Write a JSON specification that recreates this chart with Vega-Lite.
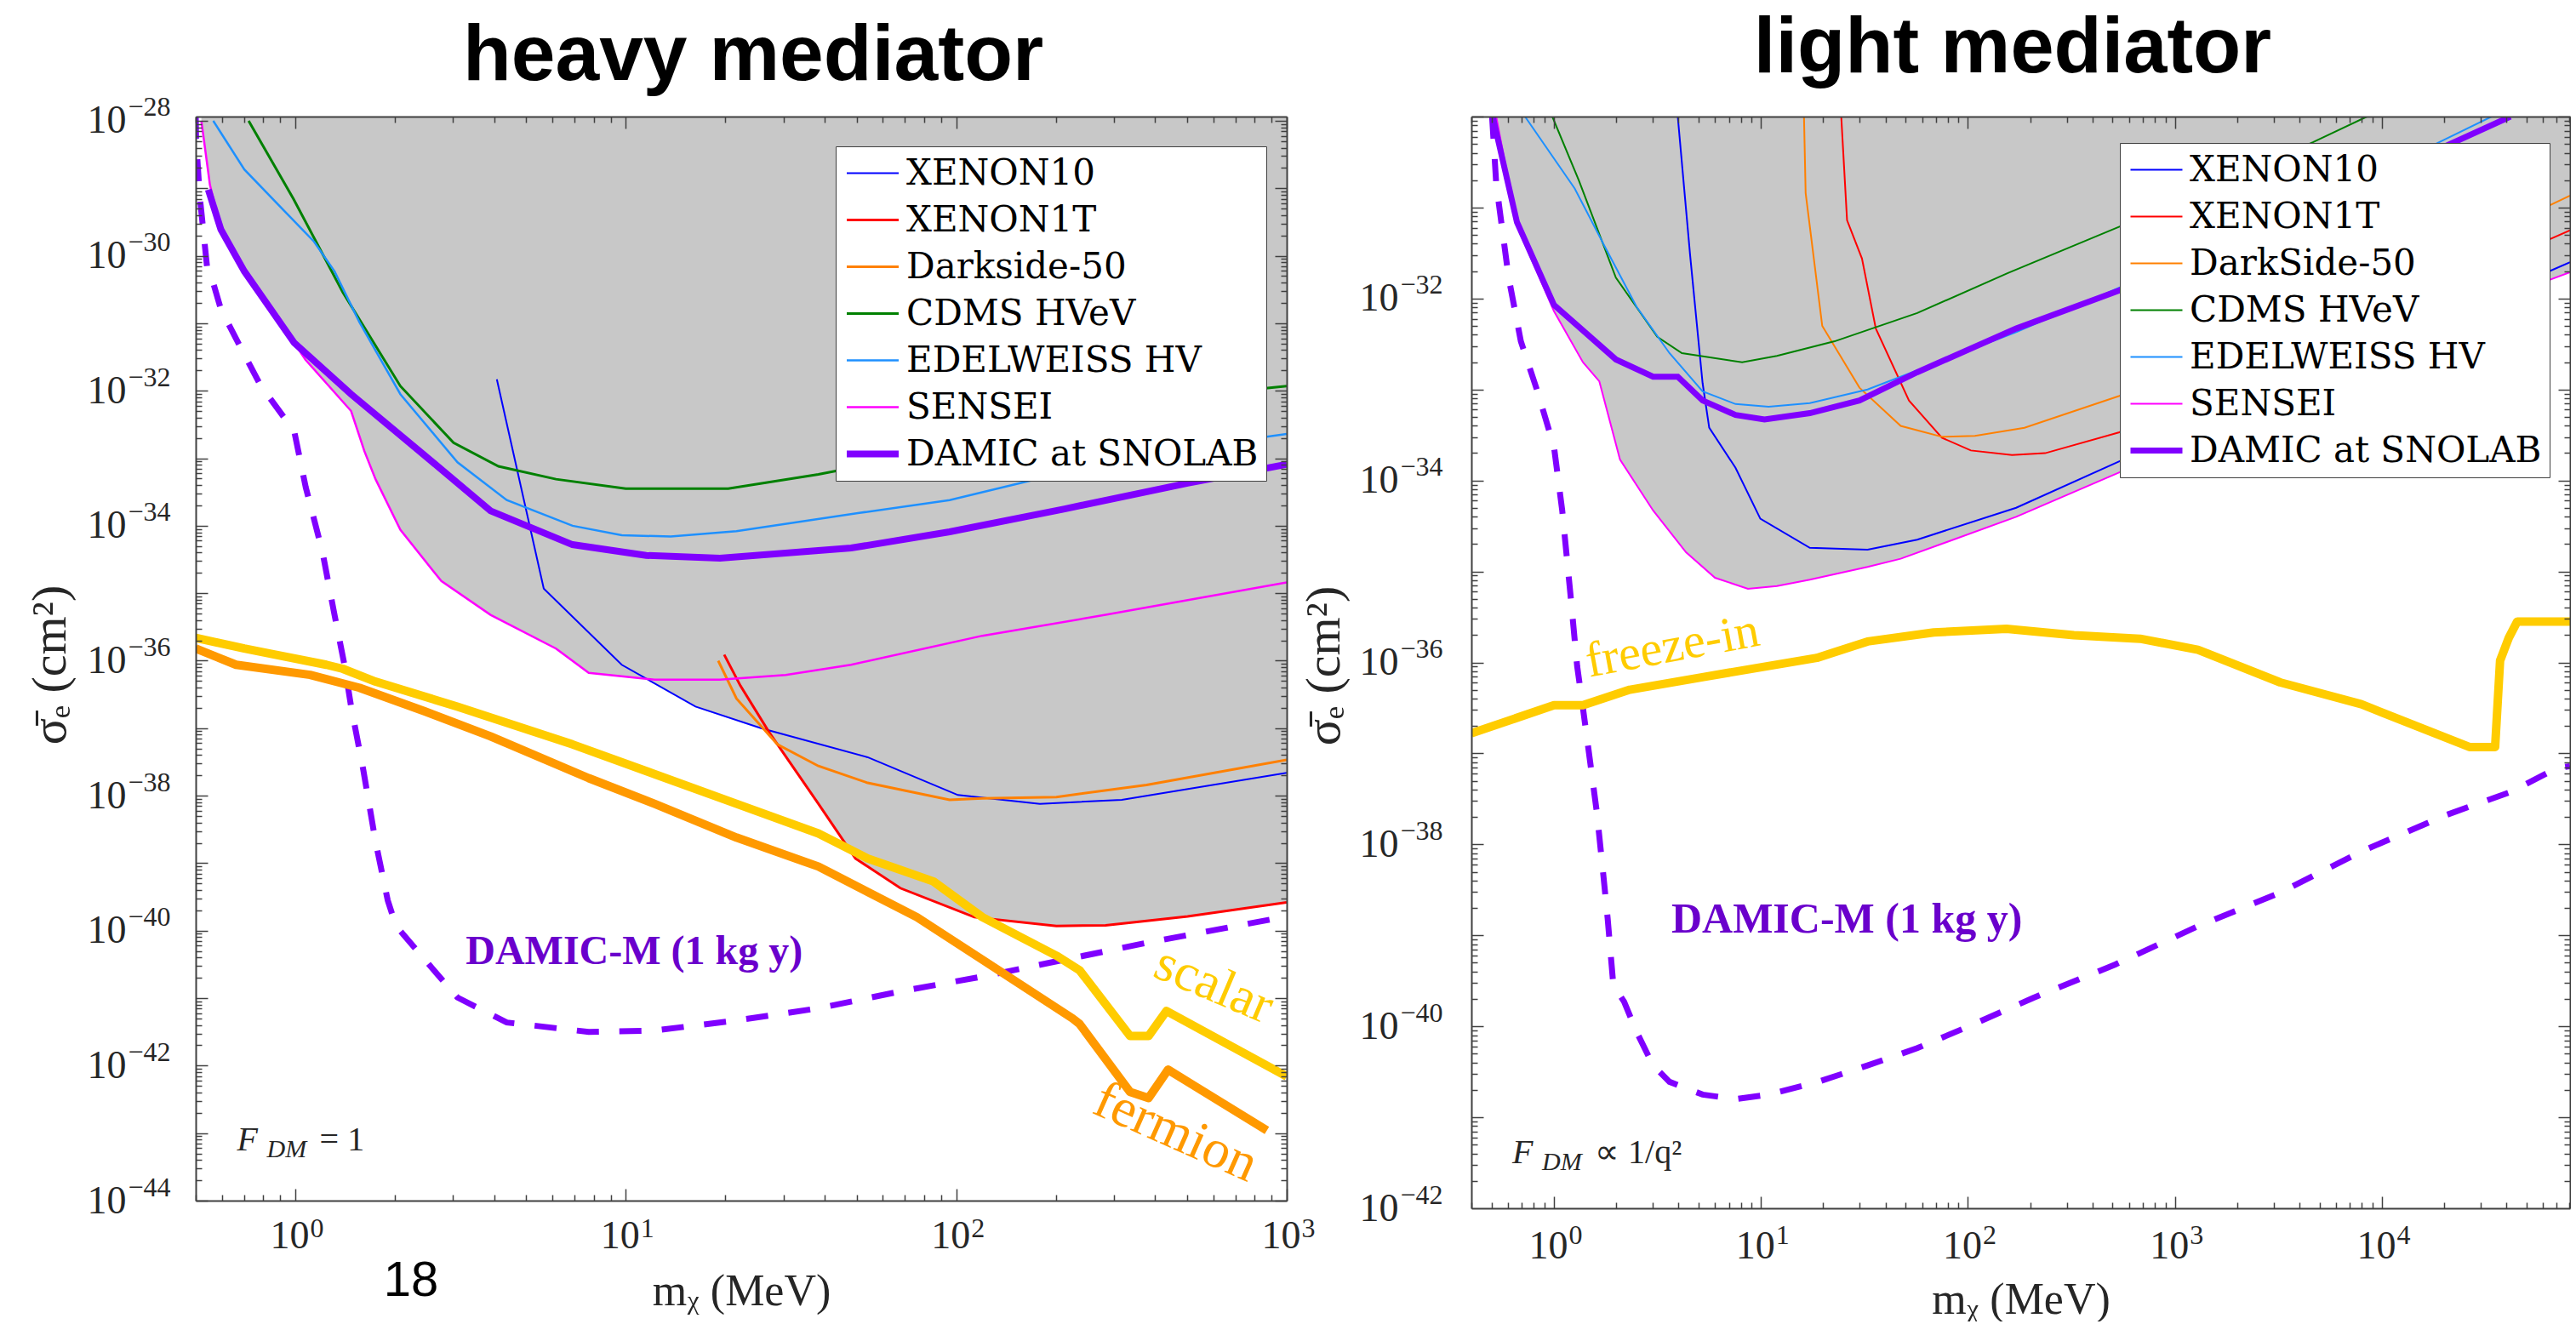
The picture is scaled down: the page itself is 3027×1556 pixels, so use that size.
{
"$schema":"https://vega.github.io/schema/vega-lite/v6.json",
"background":"white",
"padding":{"left":30,"top":11,"right":0,"bottom":0},
"bounds":"flush",
"spacing":217,
"resolve":{"scale":{"x":"independent","y":"independent","color":"independent","strokeWidth":"independent"}},
"config":{"view":{"stroke":null},"axis":{"labelFont":"Liberation Serif","titleFont":"Liberation Serif","labelColor":"#262626","titleColor":"#262626","tickColor":"#404040","domainColor":"#404040","grid":false},"text":{"font":"Liberation Serif"}},
"datasets":{
"L":[
{"s":"env","m":0.52,"sig":1e-28},{"s":"env","m":0.552,"sig":1.122e-29},{"s":"env","m":0.5957,"sig":2.455e-30},{"s":"env","m":0.7015,"sig":5.888e-31},{"s":"env","m":0.9931,"sig":5.129e-32},{"s":"env","m":1.074,"sig":2.884e-32},{"s":"env","m":1.476,"sig":5.012e-33},{"s":"env","m":1.618,"sig":1.288e-33},{"s":"env","m":1.75,"sig":4.898e-34},{"s":"env","m":2.08,"sig":8.71e-35},{"s":"env","m":2.767,"sig":1.514e-35},{"s":"env","m":3.899,"sig":4.786e-36},{"s":"env","m":6.152,"sig":1.514e-36},{"s":"env","m":7.727,"sig":6.607e-37},{"s":"env","m":11.38,"sig":5.495e-37},{"s":"env","m":16.26,"sig":2.089e-37},{"s":"env","m":25.64,"sig":1e-37},{"s":"env","m":27.16,"sig":8.71e-38},{"s":"env","m":28.77,"sig":5.754e-38},{"s":"env","m":38.28,"sig":7.586e-39},{"s":"env","m":49.55,"sig":1.175e-39},{"s":"env","m":67.76,"sig":4.266e-40},{"s":"env","m":113.5,"sig":1.585e-40},{"s":"env","m":200.9,"sig":1.175e-40},{"s":"env","m":283.1,"sig":1.202e-40},{"s":"env","m":501.2,"sig":1.622e-40},{"s":"env","m":1000,"sig":2.63e-40},
{"s":"XENON10","m":4.074,"sig":1.479e-32},{"s":"XENON10","m":5.649,"sig":1.175e-35},{"s":"XENON10","m":9.727,"sig":8.71e-37},{"s":"XENON10","m":16.26,"sig":2.089e-37},{"s":"XENON10","m":25.64,"sig":1e-37},{"s":"XENON10","m":53.95,"sig":3.715e-38},{"s":"XENON10","m":101.2,"sig":1.023e-38},{"s":"XENON10","m":179.1,"sig":7.586e-39},{"s":"XENON10","m":316.9,"sig":8.71e-39},{"s":"XENON10","m":1000,"sig":2.19e-38},
{"s":"XENON1T","m":19.86,"sig":1.23e-36},{"s":"XENON1T","m":22.23,"sig":4.266e-37},{"s":"XENON1T","m":27.16,"sig":8.71e-38},{"s":"XENON1T","m":38.28,"sig":7.586e-39},{"s":"XENON1T","m":49.55,"sig":1.175e-39},{"s":"XENON1T","m":67.76,"sig":4.266e-40},{"s":"XENON1T","m":113.5,"sig":1.585e-40},{"s":"XENON1T","m":200.9,"sig":1.175e-40},{"s":"XENON1T","m":283.1,"sig":1.202e-40},{"s":"XENON1T","m":501.2,"sig":1.622e-40},{"s":"XENON1T","m":1000,"sig":2.63e-40},
{"s":"Darkside-50","m":19.05,"sig":1e-36},{"s":"Darkside-50","m":21.63,"sig":2.754e-37},{"s":"Darkside-50","m":28.77,"sig":5.754e-38},{"s":"Darkside-50","m":38.28,"sig":2.754e-38},{"s":"Darkside-50","m":53.95,"sig":1.549e-38},{"s":"Darkside-50","m":95.5,"sig":8.71e-39},{"s":"Darkside-50","m":120,"sig":9.12e-39},{"s":"Darkside-50","m":200.9,"sig":9.55e-39},{"s":"Darkside-50","m":376.7,"sig":1.445e-38},{"s":"Darkside-50","m":1000,"sig":3.39e-38},
{"s":"CDMS HVeV","m":0.7228,"sig":1e-28},{"s":"CDMS HVeV","m":0.9886,"sig":6.918e-30},{"s":"CDMS HVeV","m":1.393,"sig":2.884e-31},{"s":"CDMS HVeV","m":2.08,"sig":1.175e-32},{"s":"CDMS HVeV","m":3.013,"sig":1.698e-33},{"s":"CDMS HVeV","m":4.121,"sig":7.586e-34},{"s":"CDMS HVeV","m":6.152,"sig":4.898e-34},{"s":"CDMS HVeV","m":10,"sig":3.548e-34},{"s":"CDMS HVeV","m":20.42,"sig":3.548e-34},{"s":"CDMS HVeV","m":38.28,"sig":5.754e-34},{"s":"CDMS HVeV","m":790.7,"sig":1.047e-32},{"s":"CDMS HVeV","m":1000,"sig":1.175e-32},
{"s":"EDELWEISS HV","m":0.5649,"sig":1e-28},{"s":"EDELWEISS HV","m":0.7015,"sig":1.905e-29},{"s":"EDELWEISS HV","m":0.9333,"sig":4.467e-30},{"s":"EDELWEISS HV","m":1.14,"sig":1.622e-30},{"s":"EDELWEISS HV","m":1.315,"sig":5.888e-31},{"s":"EDELWEISS HV","m":1.563,"sig":1.047e-31},{"s":"EDELWEISS HV","m":2.08,"sig":8.913e-33},{"s":"EDELWEISS HV","m":3.097,"sig":8.71e-34},{"s":"EDELWEISS HV","m":4.365,"sig":2.399e-34},{"s":"EDELWEISS HV","m":6.902,"sig":1e-34},{"s":"EDELWEISS HV","m":9.727,"sig":7.244e-35},{"s":"EDELWEISS HV","m":13.68,"sig":6.918e-35},{"s":"EDELWEISS HV","m":21.63,"sig":8.318e-35},{"s":"EDELWEISS HV","m":50.93,"sig":1.549e-34},{"s":"EDELWEISS HV","m":95.5,"sig":2.399e-34},{"s":"EDELWEISS HV","m":200.9,"sig":5.754e-34},{"s":"EDELWEISS HV","m":790.7,"sig":1.95e-33},{"s":"EDELWEISS HV","m":1000,"sig":2.291e-33},
{"s":"SENSEI","m":0.52,"sig":1e-28},{"s":"SENSEI","m":0.552,"sig":1.122e-29},{"s":"SENSEI","m":0.5957,"sig":2.512e-30},{"s":"SENSEI","m":0.7015,"sig":5.888e-31},{"s":"SENSEI","m":0.9931,"sig":5.129e-32},{"s":"SENSEI","m":1.074,"sig":2.884e-32},{"s":"SENSEI","m":1.476,"sig":5.012e-33},{"s":"SENSEI","m":1.618,"sig":1.288e-33},{"s":"SENSEI","m":1.75,"sig":4.898e-34},{"s":"SENSEI","m":2.08,"sig":8.71e-35},{"s":"SENSEI","m":2.767,"sig":1.514e-35},{"s":"SENSEI","m":3.899,"sig":4.786e-36},{"s":"SENSEI","m":6.152,"sig":1.514e-36},{"s":"SENSEI","m":7.727,"sig":6.607e-37},{"s":"SENSEI","m":12.22,"sig":5.248e-37},{"s":"SENSEI","m":19.28,"sig":5.248e-37},{"s":"SENSEI","m":30.48,"sig":6.166e-37},{"s":"SENSEI","m":48.08,"sig":8.71e-37},{"s":"SENSEI","m":120,"sig":2.344e-36},{"s":"SENSEI","m":283.1,"sig":4.786e-36},{"s":"SENSEI","m":1000,"sig":1.445e-35},
{"s":"DAMIC at SNOLAB","m":0.5458,"sig":9.55e-30},{"s":"DAMIC at SNOLAB","m":0.5957,"sig":2.455e-30},{"s":"DAMIC at SNOLAB","m":0.7015,"sig":5.888e-31},{"s":"DAMIC at SNOLAB","m":0.9931,"sig":5.129e-32},{"s":"DAMIC at SNOLAB","m":1.476,"sig":8.913e-33},{"s":"DAMIC at SNOLAB","m":2.466,"sig":1.096e-33},{"s":"DAMIC at SNOLAB","m":3.899,"sig":1.66e-34},{"s":"DAMIC at SNOLAB","m":6.902,"sig":5.248e-35},{"s":"DAMIC at SNOLAB","m":11.53,"sig":3.631e-35},{"s":"DAMIC at SNOLAB","m":19.28,"sig":3.311e-35},{"s":"DAMIC at SNOLAB","m":48.08,"sig":4.677e-35},{"s":"DAMIC at SNOLAB","m":95.5,"sig":8.128e-35},{"s":"DAMIC at SNOLAB","m":212.8,"sig":1.778e-34},{"s":"DAMIC at SNOLAB","m":501.2,"sig":4.266e-34},{"s":"DAMIC at SNOLAB","m":1000,"sig":8.128e-34},
{"s":"scalar","m":0.5,"sig":2.188e-36},{"s":"scalar","m":0.7015,"sig":1.514e-36},{"s":"scalar","m":1.242,"sig":8.71e-37},{"s":"scalar","m":1.393,"sig":7.586e-37},{"s":"scalar","m":1.75,"sig":4.898e-37},{"s":"scalar","m":3.097,"sig":2.089e-37},{"s":"scalar","m":6.902,"sig":5.754e-38},{"s":"scalar","m":12.22,"sig":2.089e-38},{"s":"scalar","m":21.63,"sig":7.586e-39},{"s":"scalar","m":38.28,"sig":2.754e-39},{"s":"scalar","m":53.95,"sig":1.175e-39},{"s":"scalar","m":85.31,"sig":5.37e-40},{"s":"scalar","m":120,"sig":1.585e-40},{"s":"scalar","m":200.9,"sig":4.266e-41},{"s":"scalar","m":236,"sig":2.6e-41},{"s":"scalar","m":335.7,"sig":2.754e-42},{"s":"scalar","m":382,"sig":2.754e-42},{"s":"scalar","m":432.5,"sig":6.457e-42},{"s":"scalar","m":950.6,"sig":7.943e-43},{"s":"scalar","m":1000,"sig":6.918e-43},
{"s":"fermion","m":0.5,"sig":1.514e-36},{"s":"fermion","m":0.6622,"sig":8.71e-37},{"s":"fermion","m":1.109,"sig":6.166e-37},{"s":"fermion","m":1.563,"sig":3.981e-37},{"s":"fermion","m":2.466,"sig":1.778e-37},{"s":"fermion","m":3.899,"sig":7.586e-38},{"s":"fermion","m":7.727,"sig":1.82e-38},{"s":"fermion","m":12.22,"sig":7.586e-39},{"s":"fermion","m":21.63,"sig":2.399e-39},{"s":"fermion","m":38.28,"sig":8.913e-40},{"s":"fermion","m":76.03,"sig":1.585e-40},{"s":"fermion","m":120,"sig":3.715e-41},{"s":"fermion","m":224.9,"sig":5.012e-42},{"s":"fermion","m":236,"sig":4.169e-42},{"s":"fermion","m":335.7,"sig":4.074e-43},{"s":"fermion","m":382,"sig":3.311e-43},{"s":"fermion","m":437.5,"sig":8.71e-43},{"s":"fermion","m":871,"sig":1.096e-43},
{"s":"dm","m":0.5,"sig":1.15e-28},{"s":"dm","m":0.5012,"sig":5.37e-29},{"s":"dm","m":0.514,"sig":7.762e-30},{"s":"dm","m":0.542,"sig":6.31e-31},{"s":"dm","m":0.5623,"sig":4.266e-31},{"s":"dm","m":0.5957,"sig":1.622e-31},{"s":"dm","m":0.6871,"sig":4.169e-32},{"s":"dm","m":0.7852,"sig":1.202e-32},{"s":"dm","m":0.9931,"sig":2.512e-33},{"s":"dm","m":1.076,"sig":3.715e-34},{"s":"dm","m":1.208,"sig":4.169e-35},{"s":"dm","m":1.315,"sig":4.786e-36},{"s":"dm","m":1.409,"sig":8.71e-37},{"s":"dm","m":1.476,"sig":2.089e-37},{"s":"dm","m":1.607,"sig":2.399e-38},{"s":"dm","m":1.75,"sig":2.089e-39},{"s":"dm","m":1.905,"sig":2.818e-40},{"s":"dm","m":2.018,"sig":1.175e-40},{"s":"dm","m":2.466,"sig":3.715e-41},{"s":"dm","m":3.097,"sig":1.023e-41},{"s":"dm","m":4.365,"sig":4.365e-42},{"s":"dm","m":7.727,"sig":3.162e-42},{"s":"dm","m":12.22,"sig":3.311e-42},{"s":"dm","m":21.63,"sig":4.677e-42},{"s":"dm","m":38.28,"sig":7.079e-42},{"s":"dm","m":67.76,"sig":1.259e-41},{"s":"dm","m":120,"sig":2.089e-41},{"s":"dm","m":212.8,"sig":3.715e-41},{"s":"dm","m":376.7,"sig":6.607e-41},{"s":"dm","m":1000,"sig":1.622e-40}
],
"R":[
{"s":"env","m":0.526,"sig":1e-30},{"s":"env","m":0.6622,"sig":6.31e-32},{"s":"env","m":1.0,"sig":7.244e-33},{"s":"env","m":1.38,"sig":1.995e-33},{"s":"env","m":1.656,"sig":1.23e-33},{"s":"env","m":2.084,"sig":1.698e-34},{"s":"env","m":3.013,"sig":4.677e-35},{"s":"env","m":4.345,"sig":1.622e-35},{"s":"env","m":5.998,"sig":8.511e-36},{"s":"env","m":8.65,"sig":6.457e-36},{"s":"env","m":11.94,"sig":6.918e-36},{"s":"env","m":17.22,"sig":8.128e-36},{"s":"env","m":32.73,"sig":1.122e-35},{"s":"env","m":47.32,"sig":1.38e-35},{"s":"env","m":171,"sig":3.981e-35},{"s":"env","m":539.5,"sig":1.23e-34},{"s":"env","m":58750,"sig":1.479e-32},{"s":"env","m":81100,"sig":1.95e-32},
{"s":"XENON10","m":3.963,"sig":1e-30},{"s":"XENON10","m":4.55,"sig":2.951e-32},{"s":"XENON10","m":5.224,"sig":1.175e-33},{"s":"XENON10","m":5.623,"sig":3.802e-34},{"s":"XENON10","m":7.534,"sig":1.38e-34},{"s":"XENON10","m":9.931,"sig":3.802e-35},{"s":"XENON10","m":17.22,"sig":1.82e-35},{"s":"XENON10","m":32.73,"sig":1.738e-35},{"s":"XENON10","m":56.89,"sig":2.239e-35},{"s":"XENON10","m":171,"sig":5.012e-35},{"s":"XENON10","m":539.5,"sig":1.622e-34},{"s":"XENON10","m":58750,"sig":1.82e-32},{"s":"XENON10","m":81100,"sig":2.512e-32},
{"s":"XENON1T","m":24.43,"sig":1e-30},{"s":"XENON1T","m":26.06,"sig":7.244e-32},{"s":"XENON1T","m":30.76,"sig":2.754e-32},{"s":"XENON1T","m":35.89,"sig":4.677e-33},{"s":"XENON1T","m":51.88,"sig":7.586e-34},{"s":"XENON1T","m":74.82,"sig":2.951e-34},{"s":"XENON1T","m":103.3,"sig":2.138e-34},{"s":"XENON1T","m":163.3,"sig":1.905e-34},{"s":"XENON1T","m":236,"sig":1.995e-34},{"s":"XENON1T","m":539.5,"sig":3.388e-34},{"s":"XENON1T","m":58750,"sig":4.074e-32},{"s":"XENON1T","m":81100,"sig":5.623e-32},
{"s":"DarkSide-50","m":16.14,"sig":1e-30},{"s":"DarkSide-50","m":16.44,"sig":1.445e-31},{"s":"DarkSide-50","m":19.77,"sig":5.012e-33},{"s":"DarkSide-50","m":29.92,"sig":1.047e-33},{"s":"DarkSide-50","m":47.32,"sig":3.981e-34},{"s":"DarkSide-50","m":74.82,"sig":3.02e-34},{"s":"DarkSide-50","m":108.1,"sig":3.09e-34},{"s":"DarkSide-50","m":187.5,"sig":3.802e-34},{"s":"DarkSide-50","m":539.5,"sig":8.511e-34},{"s":"DarkSide-50","m":58750,"sig":9.55e-32},{"s":"DarkSide-50","m":81100,"sig":1.349e-31},
{"s":"CDMS HVeV","m":0.9817,"sig":1e-30},{"s":"CDMS HVeV","m":1.318,"sig":1.995e-31},{"s":"CDMS HVeV","m":1.991,"sig":1.698e-32},{"s":"CDMS HVeV","m":3.155,"sig":3.802e-33},{"s":"CDMS HVeV","m":4.15,"sig":2.512e-33},{"s":"CDMS HVeV","m":8.11,"sig":1.995e-33},{"s":"CDMS HVeV","m":11.94,"sig":2.344e-33},{"s":"CDMS HVeV","m":22.7,"sig":3.388e-33},{"s":"CDMS HVeV","m":56.89,"sig":6.918e-33},{"s":"CDMS HVeV","m":156,"sig":1.905e-32},{"s":"CDMS HVeV","m":539.5,"sig":6.166e-32},{"s":"CDMS HVeV","m":4667,"sig":5.248e-31},{"s":"CDMS HVeV","m":8472,"sig":1e-30},
{"s":"EDELWEISS HV","m":0.7244,"sig":1e-30},{"s":"EDELWEISS HV","m":1.259,"sig":1.622e-31},{"s":"EDELWEISS HV","m":1.734,"sig":3.981e-32},{"s":"EDELWEISS HV","m":2.506,"sig":8.128e-33},{"s":"EDELWEISS HV","m":3.614,"sig":2.512e-33},{"s":"EDELWEISS HV","m":5.224,"sig":9.55e-34},{"s":"EDELWEISS HV","m":7.534,"sig":6.918e-34},{"s":"EDELWEISS HV","m":10.89,"sig":6.457e-34},{"s":"EDELWEISS HV","m":17.22,"sig":7.079e-34},{"s":"EDELWEISS HV","m":32.73,"sig":1e-33},{"s":"EDELWEISS HV","m":56.89,"sig":1.622e-33},{"s":"EDELWEISS HV","m":171,"sig":4.266e-33},{"s":"EDELWEISS HV","m":539.5,"sig":1.318e-32},{"s":"EDELWEISS HV","m":17500,"sig":4.786e-31},{"s":"EDELWEISS HV","m":33880,"sig":1e-30},
{"s":"SENSEI","m":0.526,"sig":1e-30},{"s":"SENSEI","m":0.6622,"sig":6.31e-32},{"s":"SENSEI","m":1.0,"sig":7.244e-33},{"s":"SENSEI","m":1.38,"sig":1.995e-33},{"s":"SENSEI","m":1.656,"sig":1.23e-33},{"s":"SENSEI","m":2.084,"sig":1.698e-34},{"s":"SENSEI","m":3.013,"sig":4.677e-35},{"s":"SENSEI","m":4.345,"sig":1.622e-35},{"s":"SENSEI","m":5.998,"sig":8.511e-36},{"s":"SENSEI","m":8.65,"sig":6.457e-36},{"s":"SENSEI","m":11.94,"sig":6.918e-36},{"s":"SENSEI","m":17.22,"sig":8.128e-36},{"s":"SENSEI","m":32.73,"sig":1.122e-35},{"s":"SENSEI","m":47.32,"sig":1.38e-35},{"s":"SENSEI","m":171,"sig":3.981e-35},{"s":"SENSEI","m":539.5,"sig":1.23e-34},{"s":"SENSEI","m":58750,"sig":1.479e-32},{"s":"SENSEI","m":81100,"sig":1.95e-32},
{"s":"DAMIC at SNOLAB","m":0.507,"sig":1e-30},{"s":"DAMIC at SNOLAB","m":0.5164,"sig":8.128e-31},{"s":"DAMIC at SNOLAB","m":0.6622,"sig":6.918e-32},{"s":"DAMIC at SNOLAB","m":1.0,"sig":8.511e-33},{"s":"DAMIC at SNOLAB","m":1.991,"sig":2.138e-33},{"s":"DAMIC at SNOLAB","m":3.013,"sig":1.38e-33},{"s":"DAMIC at SNOLAB","m":3.963,"sig":1.38e-33},{"s":"DAMIC at SNOLAB","m":5.224,"sig":7.586e-34},{"s":"DAMIC at SNOLAB","m":7.534,"sig":5.248e-34},{"s":"DAMIC at SNOLAB","m":10.4,"sig":4.677e-34},{"s":"DAMIC at SNOLAB","m":17.22,"sig":5.495e-34},{"s":"DAMIC at SNOLAB","m":29.92,"sig":7.586e-34},{"s":"DAMIC at SNOLAB","m":56.89,"sig":1.549e-33},{"s":"DAMIC at SNOLAB","m":171,"sig":4.677e-33},{"s":"DAMIC at SNOLAB","m":539.5,"sig":1.23e-32},{"s":"DAMIC at SNOLAB","m":20510,"sig":4.786e-31},{"s":"DAMIC at SNOLAB","m":41780,"sig":1e-30},
{"s":"freeze","m":0.399,"sig":1.66e-37},{"s":"freeze","m":1.0,"sig":3.388e-37},{"s":"freeze","m":1.38,"sig":3.388e-37},{"s":"freeze","m":2.323,"sig":5.012e-37},{"s":"freeze","m":5.284,"sig":6.918e-37},{"s":"freeze","m":18.62,"sig":1.122e-36},{"s":"freeze","m":32.73,"sig":1.698e-36},{"s":"freeze","m":68.39,"sig":2.138e-36},{"s":"freeze","m":153.5,"sig":2.344e-36},{"s":"freeze","m":325.1,"sig":1.995e-36},{"s":"freeze","m":679.2,"sig":1.82e-36},{"s":"freeze","m":1291,"sig":1.38e-36},{"s":"freeze","m":3228,"sig":6.026e-37},{"s":"freeze","m":7962,"sig":3.467e-37},{"s":"freeze","m":26490,"sig":1.175e-37},{"s":"freeze","m":35240,"sig":1.175e-37},{"s":"freeze","m":37240,"sig":1.047e-36},{"s":"freeze","m":41020,"sig":1.862e-36},{"s":"freeze","m":45080,"sig":2.818e-36},{"s":"freeze","m":81100,"sig":2.818e-36},
{"s":"dm","m":0.5023,"sig":1e-30},{"s":"dm","m":0.526,"sig":1.82e-31},{"s":"dm","m":0.6039,"sig":1.698e-32},{"s":"dm","m":0.6918,"sig":3.388e-33},{"s":"dm","m":0.8318,"sig":9.55e-34},{"s":"dm","m":1.0,"sig":2.344e-34},{"s":"dm","m":1.096,"sig":4.677e-35},{"s":"dm","m":1.202,"sig":5.495e-36},{"s":"dm","m":1.294,"sig":9.12e-37},{"s":"dm","m":1.38,"sig":3.162e-37},{"s":"dm","m":1.469,"sig":1.096e-37},{"s":"dm","m":1.611,"sig":2.239e-38},{"s":"dm","m":1.734,"sig":4.467e-39},{"s":"dm","m":1.816,"sig":1.549e-39},{"s":"dm","m":1.936,"sig":2.818e-40},{"s":"dm","m":2.183,"sig":1.862e-40},{"s":"dm","m":2.506,"sig":8.71e-41},{"s":"dm","m":3.013,"sig":3.715e-41},{"s":"dm","m":3.614,"sig":2.455e-41},{"s":"dm","m":5.224,"sig":1.778e-41},{"s":"dm","m":7.534,"sig":1.585e-41},{"s":"dm","m":10.89,"sig":1.778e-41},{"s":"dm","m":18.88,"sig":2.455e-41},{"s":"dm","m":32.73,"sig":3.715e-41},{"s":"dm","m":56.89,"sig":5.754e-41},{"s":"dm","m":98.62,"sig":9.772e-41},{"s":"dm","m":205.6,"sig":2.042e-40},{"s":"dm","m":515.2,"sig":4.786e-40},{"s":"dm","m":1291,"sig":1.259e-39},{"s":"dm","m":3228,"sig":2.951e-39},{"s":"dm","m":8091,"sig":8.511e-39},{"s":"dm","m":20280,"sig":2.089e-38},{"s":"dm","m":42270,"sig":3.802e-38},{"s":"dm","m":70310,"sig":6.918e-38},{"s":"dm","m":81100,"sig":7.244e-38}
]
},
"hconcat":[
{
"width":1282,"height":1274,
"data":{"name":"L"},
"encoding":{
"x":{"field":"m","type":"quantitative","scale":{"type":"log","domain":[0.5,1000],"nice":false},"axis":null},
"y":{"field":"sig","type":"quantitative","scale":{"type":"log","domain":[1e-44,1.156e-28],"nice":false},"axis":null}
},
"resolve":{"axis":{"x":"independent","y":"independent"}},
"layer":[
{"transform":[{"filter":"datum.s == 'env'"}],
"mark":{"type":"area","color":"#c8c8c8","clip":true},
"encoding":{
"x":{"field":"m","type":"quantitative","scale":{"type":"log","domain":[0.5,1000],"nice":false},"axis":{"orient":"bottom","values":[1,10,100,1000],"ticks":false,"domain":false,"labelExpr":"'10'","labelAlign":"right","labelOffset":16,"labelBaseline":"alphabetic","labelPadding":55,"labelFontSize":46,"labelFlush":false,"labelOverlap":false,"title":"m\u1d6a (MeV)","titleFontSize":52,"titleFontWeight":"normal","titleY":122,"titleBaseline":"alphabetic"}},
"y":{"field":"sig","type":"quantitative","scale":{"type":"log","domain":[1e-44,1.156e-28],"nice":false},"axis":{"orient":"left","values":[1e-28,1e-30,1e-32,1e-34,1e-36,1e-38,1e-40,1e-42,1e-44],"ticks":false,"domain":false,"labelExpr":"'10'","labelAlign":"right","labelBaseline":"middle","labelPadding":82,"labelFontSize":46,"labelFlush":false,"labelOverlap":false,"title":"\u03c3\u0304\u2091 (cm\u00b2)","titleFontSize":58,"titleFontWeight":"normal","titleX":-142,"titleY":644,"titleAngle":270,"titleBaseline":"bottom","titleAlign":"center"}},
"y2":{"datum":1.156e-28}}},
{"transform":[{"filter":{"field":"s","oneOf":["XENON10","XENON1T","Darkside-50","CDMS HVeV","EDELWEISS HV","SENSEI","DAMIC at SNOLAB"]}}],
"mark":{"type":"line","clip":true},
"encoding":{
"x":{"field":"m","type":"quantitative","scale":{"type":"log","domain":[0.5,1000],"nice":false},"axis":{"orient":"bottom","values":[1,10,100,1000],"ticks":false,"domain":false,"labelExpr":"toString(round(log(datum.value)/LN10))","labelAlign":"left","labelOffset":17,"labelBaseline":"alphabetic","labelPadding":42,"labelFontSize":32,"labelFlush":false,"labelOverlap":false,"title":null}},
"y":{"field":"sig","type":"quantitative","scale":{"type":"log","domain":[1e-44,1.156e-28],"nice":false},"axis":{"orient":"left","values":[1e-28,1e-30,1e-32,1e-34,1e-36,1e-38,1e-40,1e-42,1e-44],"ticks":false,"domain":false,"labelExpr":"'\u2212' + toString(abs(round(log(datum.value)/LN10)))","labelAlign":"left","labelBaseline":"middle","labelPadding":80,"labelOffset":-16,"labelFontSize":32,"labelFlush":false,"labelOverlap":false,"title":null}},
"color":{"field":"s","type":"nominal","scale":{"domain":["XENON10","XENON1T","Darkside-50","CDMS HVeV","EDELWEISS HV","SENSEI","DAMIC at SNOLAB"],"range":["#0000ff","#ff0000","#ff8000","#008000","#1e90ff","#ff00ff","#8000ff"]},"legend":{"orient":"none","legendX":752,"legendY":35,"title":null,"symbolType":"stroke","symbolSize":3721,"clipHeight":45,"rowPadding":10,"padding":9,"labelFont":"DejaVu Serif","labelFontSize":42,"labelColor":"black","labelOffset":5,"labelLimit":0,"fillColor":"white","strokeColor":"#404040"}},
"strokeWidth":{"field":"s","type":"nominal","scale":{"type":"ordinal","domain":["XENON10","XENON1T","Darkside-50","CDMS HVeV","EDELWEISS HV","SENSEI","DAMIC at SNOLAB"],"range":[2,3,3,3,2.5,2.5,8]}}}},
{"transform":[{"filter":"datum.s == 'dm'"}],
"mark":{"type":"line","clip":true,"color":"#8000ff","strokeWidth":7,"strokeDash":[26,24]},
"encoding":{
"x":{"field":"m","type":"quantitative","scale":{"type":"log","domain":[0.5,1000],"nice":false},"axis":{"orient":"bottom","tickCount":20,"labels":false,"domain":true,"domainWidth":2,"tickSize":{"condition":{"test":"abs(log(datum.value)/LN10 - round(log(datum.value)/LN10)) < 0.001","value":-14},"value":-7},"tickWidth":1.5,"title":null,"zindex":1}},
"y":{"field":"sig","type":"quantitative","scale":{"type":"log","domain":[1e-44,1.156e-28],"nice":false},"axis":{"orient":"left","tickCount":40,"labels":false,"domain":true,"domainWidth":2,"tickSize":{"condition":{"test":"abs(log(datum.value)/LN10 - round(log(datum.value)/LN10)) < 0.001","value":-14},"value":-7},"tickWidth":1.5,"title":null,"zindex":1}}}},
{"transform":[{"filter":"datum.s == 'scalar'"}],
"mark":{"type":"line","clip":true,"color":"#ffcc00","strokeWidth":10,"strokeJoin":"round"},
"encoding":{
"x":{"field":"m","type":"quantitative","scale":{"type":"log","domain":[0.5,1000],"nice":false},"axis":{"orient":"top","tickCount":20,"labels":false,"domain":true,"domainWidth":2,"tickSize":{"condition":{"test":"abs(log(datum.value)/LN10 - round(log(datum.value)/LN10)) < 0.001","value":-14},"value":-7},"tickWidth":1.5,"title":null,"zindex":1}},
"y":{"field":"sig","type":"quantitative","scale":{"type":"log","domain":[1e-44,1.156e-28],"nice":false},"axis":{"orient":"right","tickCount":40,"labels":false,"domain":true,"domainWidth":2,"tickSize":{"condition":{"test":"abs(log(datum.value)/LN10 - round(log(datum.value)/LN10)) < 0.001","value":-14},"value":-7},"tickWidth":1.5,"title":null,"zindex":1}}}},
{"transform":[{"filter":"datum.s == 'fermion'"}],
"mark":{"type":"line","clip":true,"color":"#ff9900","strokeWidth":10,"strokeJoin":"round"},
"encoding":{}},
{"data":{"values":[{"t":"heavy mediator","m":24.3,"sig":4.03e-28}]},"mark":{"type":"text","font":"Liberation Sans","fontSize":93,"fontWeight":"bold","color":"black","align":"center","baseline":"alphabetic"},"encoding":{"text":{"field":"t"}}},
{"data":{"values":[{"t":"DAMIC-M (1 kg y)","m":3.28,"sig":3.2e-41}]},"mark":{"type":"text","font":"Liberation Serif","fontSize":48,"fontWeight":"bold","color":"#6a00cc","align":"left","baseline":"alphabetic"},"encoding":{"text":{"field":"t"}}},
{"data":{"values":[{"t":"scalar","m":389,"sig":2.14e-41}]},"mark":{"type":"text","font":"Liberation Serif","fontSize":62,"color":"#ffcc00","align":"left","baseline":"alphabetic","angle":23},"encoding":{"text":{"field":"t"}}},
{"data":{"values":[{"t":"fermion","m":254.7,"sig":2.04e-43}]},"mark":{"type":"text","font":"Liberation Serif","fontSize":64,"color":"#ff9900","align":"left","baseline":"alphabetic","angle":24},"encoding":{"text":{"field":"t"}}},
{"data":{"values":[{"t":"F","m":0.667,"sig":5.5e-44}]},"mark":{"type":"text","font":"Liberation Serif","fontSize":40,"fontStyle":"italic","color":"#262626","align":"left","baseline":"alphabetic"},"encoding":{"text":{"field":"t"}}},
{"data":{"values":[{"t":"DM","m":0.667,"sig":5.5e-44}]},"mark":{"type":"text","font":"Liberation Serif","fontSize":30,"fontStyle":"italic","color":"#262626","align":"left","baseline":"alphabetic","dx":35,"dy":8},"encoding":{"text":{"field":"t"}}},
{"data":{"values":[{"t":"= 1","m":0.667,"sig":5.5e-44}]},"mark":{"type":"text","font":"Liberation Serif","fontSize":40,"color":"#262626","align":"left","baseline":"alphabetic","dx":97},"encoding":{"text":{"field":"t"}}},
{"data":{"values":[{"t":"18","m":2.24,"sig":3.9e-46}]},"mark":{"type":"text","font":"Liberation Sans","fontSize":58,"color":"black","align":"center","baseline":"alphabetic"},"encoding":{"text":{"field":"t"}}}
]
},
{
"width":1291,"height":1283,
"data":{"name":"R"},
"encoding":{
"x":{"field":"m","type":"quantitative","scale":{"type":"log","domain":[0.399,81100],"nice":false},"axis":null},
"y":{"field":"sig","type":"quantitative","scale":{"type":"log","domain":[1e-42,1e-30],"nice":false},"axis":null}
},
"resolve":{"axis":{"x":"independent","y":"independent"}},
"layer":[
{"transform":[{"filter":"datum.s == 'env'"}],
"mark":{"type":"area","color":"#c8c8c8","clip":true},
"encoding":{
"x":{"field":"m","type":"quantitative","scale":{"type":"log","domain":[0.399,81100],"nice":false},"axis":{"orient":"bottom","values":[1,10,100,1000,10000],"ticks":false,"domain":false,"labelExpr":"'10'","labelAlign":"right","labelOffset":16,"labelBaseline":"alphabetic","labelPadding":58,"labelFontSize":46,"labelFlush":false,"labelOverlap":false,"title":"m\u1d6a (MeV)","titleFontSize":52,"titleFontWeight":"normal","titleY":123,"titleBaseline":"alphabetic"}},
"y":{"field":"sig","type":"quantitative","scale":{"type":"log","domain":[1e-42,1e-30],"nice":false},"axis":{"orient":"left","values":[1e-32,1e-34,1e-36,1e-38,1e-40,1e-42],"ticks":false,"domain":false,"labelExpr":"'10'","labelAlign":"right","labelBaseline":"middle","labelPadding":86,"labelFontSize":46,"labelFlush":false,"labelOverlap":false,"title":"\u03c3\u0304\u2091 (cm\u00b2)","titleFontSize":58,"titleFontWeight":"normal","titleX":-144,"titleY":645,"titleAngle":270,"titleBaseline":"bottom","titleAlign":"center"}},
"y2":{"datum":1e-30}}},
{"transform":[{"filter":{"field":"s","oneOf":["XENON10","XENON1T","DarkSide-50","CDMS HVeV","EDELWEISS HV","SENSEI","DAMIC at SNOLAB"]}}],
"mark":{"type":"line","clip":true},
"encoding":{
"x":{"field":"m","type":"quantitative","scale":{"type":"log","domain":[0.399,81100],"nice":false},"axis":{"orient":"bottom","values":[1,10,100,1000,10000],"ticks":false,"domain":false,"labelExpr":"toString(round(log(datum.value)/LN10))","labelAlign":"left","labelOffset":17,"labelBaseline":"alphabetic","labelPadding":41,"labelFontSize":32,"labelFlush":false,"labelOverlap":false,"title":null}},
"y":{"field":"sig","type":"quantitative","scale":{"type":"log","domain":[1e-42,1e-30],"nice":false},"axis":{"orient":"left","values":[1e-32,1e-34,1e-36,1e-38,1e-40,1e-42],"ticks":false,"domain":false,"labelExpr":"'\u2212' + toString(abs(round(log(datum.value)/LN10)))","labelAlign":"left","labelBaseline":"middle","labelPadding":84,"labelOffset":-16,"labelFontSize":32,"labelFlush":false,"labelOverlap":false,"title":null}},
"color":{"field":"s","type":"nominal","scale":{"domain":["XENON10","XENON1T","DarkSide-50","CDMS HVeV","EDELWEISS HV","SENSEI","DAMIC at SNOLAB"],"range":["#0000ff","#ff0000","#ff8000","#008000","#1e90ff","#ff00ff","#8000ff"]},"legend":{"orient":"none","legendX":762,"legendY":31,"title":null,"symbolType":"stroke","symbolSize":3721,"clipHeight":45,"rowPadding":10,"padding":9,"labelFont":"DejaVu Serif","labelFontSize":42,"labelColor":"black","labelOffset":5,"labelLimit":0,"fillColor":"white","strokeColor":"#404040"}},
"strokeWidth":{"field":"s","type":"nominal","scale":{"type":"ordinal","domain":["XENON10","XENON1T","DarkSide-50","CDMS HVeV","EDELWEISS HV","SENSEI","DAMIC at SNOLAB"],"range":[2,2,2,2,2,2,7]}}}},
{"transform":[{"filter":"datum.s == 'dm'"}],
"mark":{"type":"line","clip":true,"color":"#8000ff","strokeWidth":7,"strokeDash":[26,24]},
"encoding":{
"x":{"field":"m","type":"quantitative","scale":{"type":"log","domain":[0.399,81100],"nice":false},"axis":{"orient":"bottom","tickCount":20,"labels":false,"domain":true,"domainWidth":2,"tickSize":{"condition":{"test":"abs(log(datum.value)/LN10 - round(log(datum.value)/LN10)) < 0.001","value":-14},"value":-7},"tickWidth":1.5,"title":null,"zindex":1}},
"y":{"field":"sig","type":"quantitative","scale":{"type":"log","domain":[1e-42,1e-30],"nice":false},"axis":{"orient":"left","tickCount":30,"labels":false,"domain":true,"domainWidth":2,"tickSize":{"condition":{"test":"abs(log(datum.value)/LN10 - round(log(datum.value)/LN10)) < 0.001","value":-14},"value":-7},"tickWidth":1.5,"title":null,"zindex":1}}}},
{"transform":[{"filter":"datum.s == 'freeze'"}],
"mark":{"type":"line","clip":true,"color":"#ffcc00","strokeWidth":10,"strokeJoin":"round"},
"encoding":{
"x":{"field":"m","type":"quantitative","scale":{"type":"log","domain":[0.399,81100],"nice":false},"axis":{"orient":"top","tickCount":20,"labels":false,"domain":true,"domainWidth":2,"tickSize":{"condition":{"test":"abs(log(datum.value)/LN10 - round(log(datum.value)/LN10)) < 0.001","value":-14},"value":-7},"tickWidth":1.5,"title":null,"zindex":1}},
"y":{"field":"sig","type":"quantitative","scale":{"type":"log","domain":[1e-42,1e-30],"nice":false},"axis":{"orient":"right","tickCount":30,"labels":false,"domain":true,"domainWidth":2,"tickSize":{"condition":{"test":"abs(log(datum.value)/LN10 - round(log(datum.value)/LN10)) < 0.001","value":-14},"value":-7},"tickWidth":1.5,"title":null,"zindex":1}}}},
{"data":{"values":[{"t":"light mediator","m":164.4,"sig":3.06e-30}]},"mark":{"type":"text","font":"Liberation Sans","fontSize":92,"fontWeight":"bold","color":"black","align":"center","baseline":"alphabetic"},"encoding":{"text":{"field":"t"}}},
{"data":{"values":[{"t":"DAMIC-M (1 kg y)","m":3.69,"sig":1.07e-39}]},"mark":{"type":"text","font":"Liberation Serif","fontSize":50,"fontWeight":"bold","color":"#6a00cc","align":"left","baseline":"alphabetic"},"encoding":{"text":{"field":"t"}}},
{"data":{"values":[{"t":"freeze-in","m":1.476,"sig":6.9e-37}]},"mark":{"type":"text","font":"Liberation Serif","fontSize":58,"color":"#ffcc00","align":"left","baseline":"alphabetic","angle":-10.5},"encoding":{"text":{"field":"t"}}},
{"data":{"values":[{"t":"F","m":0.629,"sig":3.16e-42}]},"mark":{"type":"text","font":"Liberation Serif","fontSize":40,"fontStyle":"italic","color":"#262626","align":"left","baseline":"alphabetic"},"encoding":{"text":{"field":"t"}}},
{"data":{"values":[{"t":"DM","m":0.629,"sig":3.16e-42}]},"mark":{"type":"text","font":"Liberation Serif","fontSize":30,"fontStyle":"italic","color":"#262626","align":"left","baseline":"alphabetic","dx":35,"dy":8},"encoding":{"text":{"field":"t"}}},
{"data":{"values":[{"t":"\u221d 1/q\u00b2","m":0.629,"sig":3.16e-42}]},"mark":{"type":"text","font":"Liberation Serif","fontSize":40,"color":"#262626","align":"left","baseline":"alphabetic","dx":97},"encoding":{"text":{"field":"t"}}}
]
}
]
}
